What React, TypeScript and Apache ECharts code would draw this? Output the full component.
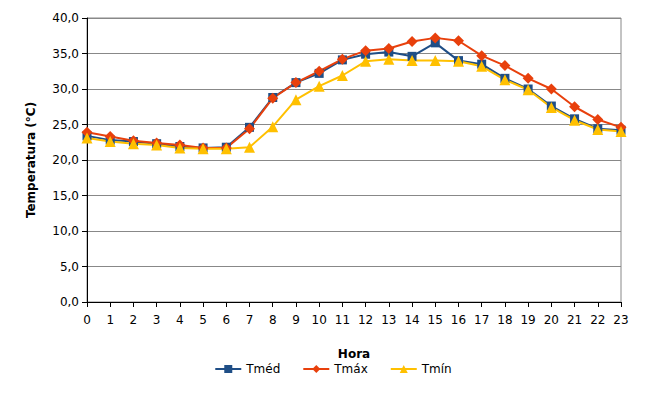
import { useEffect, useRef } from 'react'
import * as echarts from 'echarts'

const hours = ['0','1','2','3','4','5','6','7','8','9','10','11','12','13','14','15','16','17','18','19','20','21','22','23']
const tmed = [23.4,22.8,22.6,22.3,21.9,21.7,21.8,24.6,28.8,30.9,32.2,34.1,34.9,35.2,34.6,36.5,34.0,33.5,31.5,30.0,27.6,25.8,24.4,24.2]
const tmax = [23.9,23.3,22.7,22.4,22.1,21.7,21.7,24.4,28.7,30.9,32.5,34.2,35.4,35.7,36.7,37.2,36.8,34.7,33.3,31.5,30.0,27.5,25.7,24.6]
const tmin = [23.1,22.6,22.3,22.1,21.7,21.6,21.6,21.8,24.7,28.5,30.4,31.9,33.9,34.2,34.0,34.0,33.9,33.2,31.3,29.9,27.4,25.6,24.3,24.0]

const font = 'DejaVu Sans'

export default function App() {
    const ref = useRef<HTMLDivElement>(null)

    useEffect(() => {
        if (!ref.current) return
        const chart = echarts.init(ref.current, null, { renderer: 'svg' })
        const mk = (name: string, data: number[], color: string, symbol: string, size: number) => ({
            name, type: 'line', data, symbol, symbolSize: size,
            itemStyle: { color }, lineStyle: { color, width: 2 }
        })
        chart.setOption({
            animation: false,
            textStyle: { fontFamily: font },
            grid: { left: 79, right: 37, top: 10, bottom: 92, show: true, borderColor: '#888', borderWidth: 1 },
            xAxis: {
                type: 'category', data: hours, boundaryGap: false,
                name: 'Hora', nameLocation: 'middle', nameGap: 46,
                nameTextStyle: { fontWeight: 'bold', fontSize: 12, color: '#000', fontFamily: font },
                axisLine: { lineStyle: { color: '#000' } },
                axisTick: { show: true, alignWithLabel: true, lineStyle: { color: '#000' } },
                axisLabel: { color: '#000', fontSize: 12, fontFamily: font, margin: 12 }
            },
            yAxis: {
                type: 'value', min: 0, max: 40, interval: 5,
                name: 'Temperatura (°C)', nameLocation: 'middle', nameGap: 50,
                nameTextStyle: { fontWeight: 'bold', fontSize: 12, color: '#000', fontFamily: font },
                axisLine: { show: true, lineStyle: { color: '#000' } },
                axisTick: { show: true, lineStyle: { color: '#000' } },
                axisLabel: { color: '#000', fontSize: 12, fontFamily: font, formatter: (v: number) => v.toFixed(1).replace('.', ',') },
                splitLine: { lineStyle: { color: '#888' } }
            },
            legend: {
                bottom: 14, left: 'center', itemGap: 22, itemWidth: 26, itemHeight: 10,
                textStyle: { color: '#000', fontSize: 12, fontFamily: font },
                data: ['Tméd', 'Tmáx', 'Tmín']
            },
            series: [
                mk('Tméd', tmed, '#1f4e86', 'rect', 9),
                mk('Tmáx', tmax, '#e8400c', 'diamond', 11),
                mk('Tmín', tmin, '#ffc000', 'triangle', 11)
            ]
        })
        return () => chart.dispose()
    }, [])

    return <div ref={ref} style={{ width: 650, height: 386 }} />
}
